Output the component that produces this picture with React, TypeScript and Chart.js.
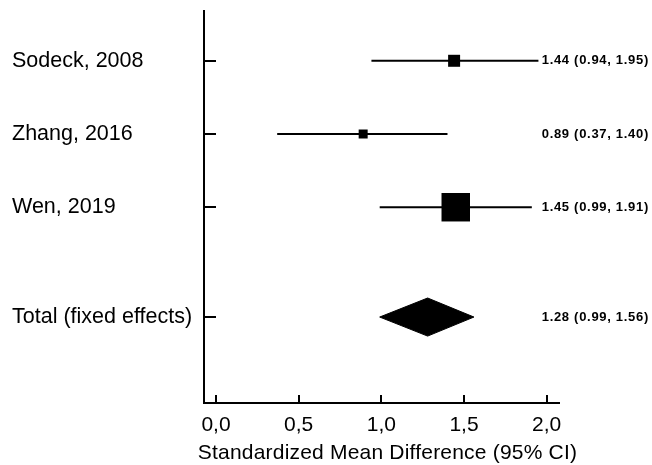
import React, { useEffect, useRef } from 'react';
import { Chart, registerables } from 'chart.js';

Chart.register(...registerables);

// ---- data ----
const STUDIES = ['Sodeck, 2008', 'Zhang, 2016', 'Wen, 2019'];
const STUDY_SMD = [1.44, 0.89, 1.45];
const STUDY_LOWER = [0.94, 0.37, 0.99];
const STUDY_UPPER = [1.95, 1.4, 1.91];
const TOTAL_LABEL = 'Total (fixed effects)';
const TOTAL_SMD = 1.28;
const TOTAL_LOWER = 0.99;
const TOTAL_UPPER = 1.56;
const ROW_POS = [0, 1, 2, 3.5];
const ROW_LABELS = [...STUDIES, TOTAL_LABEL];
const X_TICKS = [0, 0.5, 1, 1.5, 2];
const X_TITLE = 'Standardized Mean Difference (95% CI)';

// ---- style ----
const SQUARE_SIDE = [12, 9, 28.5];
const DIAMOND_HALF = 0.26;
const FONT = '"Liberation Sans", Arial, sans-serif';

const fmt2 = (v: number) => v.toFixed(2);

const textPlugin = {
  id: 'forestText',
  afterDraw(chart: any) {
    const { ctx, scales, chartArea } = chart;
    const x = scales.x;
    const y = scales.y;
    const rows = [
      ...STUDY_SMD.map((v, i) => ({ v, lo: STUDY_LOWER[i], hi: STUDY_UPPER[i], pos: ROW_POS[i] })),
      { v: TOTAL_SMD, lo: TOTAL_LOWER, hi: TOTAL_UPPER, pos: ROW_POS[3] },
    ];
    ctx.save();
    ctx.font = `bold 13px ${FONT}`;
    try { (ctx as any).letterSpacing = '0.7px'; } catch (e) {}
    ctx.fillStyle = '#000';
    ctx.textAlign = 'left';
    ctx.textBaseline = 'middle';
    const lx = x.getPixelForValue(2) - 5;
    rows.forEach((r) => {
      ctx.fillText(`${fmt2(r.v)} (${fmt2(r.lo)}, ${fmt2(r.hi)})`, lx, y.getPixelForValue(r.pos));
    });
    ctx.restore();

    // axis title
    ctx.save();
    ctx.font = `21px ${FONT}`;
    try { (ctx as any).letterSpacing = '0.2px'; } catch (e) {}
    ctx.fillStyle = '#000';
    ctx.textAlign = 'center';
    ctx.textBaseline = 'alphabetic';
    ctx.fillText(X_TITLE, (chartArea.left + chartArea.right) / 2 + 6, chartArea.bottom + 56);
    ctx.restore();
  },
};

export default function App() {
  const ref = useRef<HTMLCanvasElement | null>(null);

  useEffect(() => {
    if (!ref.current) return;
    const ciSets = STUDIES.map((s, i) => ({
      type: 'line' as const,
      label: s,
      data: [
        { x: STUDY_LOWER[i], y: ROW_POS[i] },
        { x: STUDY_UPPER[i], y: ROW_POS[i] },
      ],
      borderColor: '#000',
      borderWidth: 2,
      pointRadius: 0,
      fill: false,
      order: 3,
    }));
    const squares = {
      type: 'scatter' as const,
      label: 'SMD',
      data: STUDY_SMD.map((v, i) => ({ x: v, y: ROW_POS[i] })),
      pointStyle: 'rect',
      pointRadius: SQUARE_SIDE.map((s) => s / Math.SQRT2),
      backgroundColor: '#000',
      borderColor: '#000',
      borderWidth: 0,
      order: 1,
    };
    const diamond = {
      type: 'line' as const,
      label: TOTAL_LABEL,
      data: [
        { x: TOTAL_LOWER, y: ROW_POS[3] },
        { x: TOTAL_SMD, y: ROW_POS[3] - DIAMOND_HALF },
        { x: TOTAL_UPPER, y: ROW_POS[3] },
        { x: TOTAL_SMD, y: ROW_POS[3] + DIAMOND_HALF },
        { x: TOTAL_LOWER, y: ROW_POS[3] },
      ],
      fill: 'shape',
      backgroundColor: '#000',
      borderColor: '#000',
      borderWidth: 1,
      pointRadius: 0,
      tension: 0,
      order: 2,
    };

    const chart = new Chart(ref.current, {
      type: 'scatter',
      data: { datasets: [...ciSets, squares, diamond] as any },
      options: {
        animation: false,
        responsive: false,
        maintainAspectRatio: false,
        devicePixelRatio: 1,
        layout: { autoPadding: false, padding: { left: 12, top: 11, right: 93, bottom: 0 } },
        plugins: { legend: { display: false }, tooltip: { enabled: false } },
        scales: {
          x: {
            type: 'linear',
            position: 'bottom',
            min: -0.0726,
            max: 2.0744,
            afterBuildTicks: (scale: any) => {
              scale.ticks = X_TICKS.map((v) => ({ value: v }));
            },
            afterFit: (scale: any) => {
              scale.height = 62;
              scale.paddingLeft = 0;
              scale.paddingRight = 0;
            },
            ticks: {
              autoSkip: false,
              maxRotation: 0,
              padding: 18,
              color: '#000',
              font: { family: FONT, size: 21 },
              callback: (v: any) => Number(v).toFixed(1).replace('.', ','),
            },
            grid: {
              display: true,
              drawOnChartArea: false,
              drawTicks: true,
              tickLength: -8,
              color: '#000',
              lineWidth: 2,
            },
            border: { display: true, color: '#000', width: 2 },
            title: { display: false },
          },
          y: {
            type: 'linear',
            position: 'left',
            reverse: true,
            min: -0.68,
            max: 4.674,
            afterBuildTicks: (scale: any) => {
              scale.ticks = ROW_POS.map((v) => ({ value: v }));
            },
            afterFit: (scale: any) => {
              scale.width = 192;
              scale.paddingTop = 0;
              scale.paddingBottom = 0;
            },
            ticks: {
              autoSkip: false,
              crossAlign: 'far',
              padding: 0,
              color: '#000',
              font: { family: FONT, size: 21.5 },
              callback: (_v: any, i: number) => ROW_LABELS[i],
            },
            grid: {
              display: true,
              drawOnChartArea: false,
              drawTicks: true,
              tickLength: -12,
              color: '#000',
              lineWidth: 2,
            },
            border: { display: true, color: '#000', width: 2 },
          },
        },
      } as any,
      plugins: [textPlugin],
    });
    return () => chart.destroy();
  }, []);

  return (
    <div style={{ position: 'fixed', left: 0, top: 0, width: 652, height: 465, background: '#fff' }}>
      <canvas ref={ref} width={652} height={465} style={{ width: 652, height: 465, display: 'block' }} />
    </div>
  );
}
